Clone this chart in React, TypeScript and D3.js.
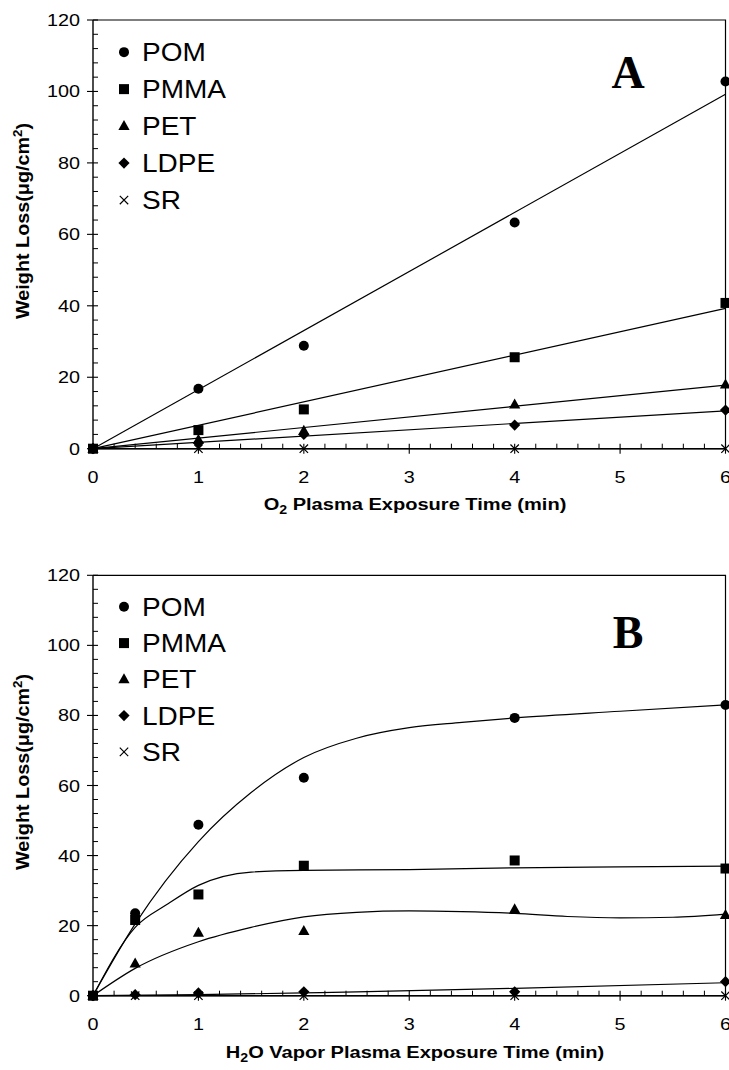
import React from "react";
import * as d3 from "d3";

// ---------- Data ----------
const SERIES = ["POM", "PMMA", "PET", "LDPE", "SR"];
const MARKERS = ["circle", "square", "triangle", "diamond", "times"];

const X_TICKS = [0, 1, 2, 3, 4, 5, 6];
const Y_TICKS = [0, 20, 40, 60, 80, 100, 120];

// Panel A (O2 plasma)
const X_A = [0, 1, 2, 4, 6];
const POM_A = [0, 16.8, 28.8, 63.3, 102.8];
const PMMA_A = [0, 5.2, 11.0, 25.6, 40.8];
const PET_A = [0, 2.5, 5.0, 12.4, 18.0];
const LDPE_A = [0, 1.7, 4.0, 6.6, 10.8];
const SR_A = [0, 0, 0, 0, 0];
// linear fits
const FIT_X_A = [0, 6];
const FIT_POM_A = [0, 99.2];
const FIT_PMMA_A = [0, 39.3];
const FIT_PET_A = [0, 17.8];
const FIT_LDPE_A = [0, 10.6];
const FIT_SR_A = [0, 0];

// Panel B (H2O vapor plasma)
const X_B = [0, 0.4, 1, 2, 4, 6];
const POM_B = [0, 23.5, 48.8, 62.2, 79.3, 83.0];
const PMMA_B = [0, 21.6, 28.9, 37.1, 38.6, 36.3];
const PET_B = [0, 9.2, 18.0, 18.5, 24.7, 23.0];
const LDPE_B = [0, 0.3, 0.8, 1.1, 1.1, 4.0];
const SR_B = [0, 0, 0, 0, 0, 0];
// fitted curves
const FIT_POM_B_X = [0, 0.4, 1, 1.5, 2, 2.5, 3, 3.5, 4, 5, 6];
const FIT_POM_B_Y = [0, 20.5, 44, 58, 68, 73.5, 76.5, 78, 79.3, 81.2, 83];
const FIT_PMMA_B_X = [0, 0.4, 0.7, 1, 1.5, 2, 3, 4, 5, 6];
const FIT_PMMA_B_Y = [0, 19.5, 26, 31.5, 35.3, 35.8, 36, 36.5, 36.8, 37];
const FIT_PET_B_X = [0, 0.4, 1, 1.5, 2, 2.5, 3, 3.5, 4, 4.5, 5, 5.5, 6];
const FIT_PET_B_Y = [0, 7.8, 15.4, 19.5, 22.5, 23.8, 24.2, 24, 23.5, 22.6, 22.2, 22.4, 23.3];
const FIT_LDPE_B_X = [0, 1, 2, 2.5, 4, 6];
const FIT_LDPE_B_Y = [0, 0.3, 0.8, 1.1, 2.1, 3.7];
const FIT_SR_B_X = [0, 6];
const FIT_SR_B_Y = [0, 0];

// ---------- Styling ----------
const SANS = "'Liberation Sans', Arial, Helvetica, sans-serif";
const SERIF = "'Liberation Serif', 'Times New Roman', serif";

type Pt = [number, number];
const zip = (xs: number[], ys: number[]): Pt[] => xs.map((x, i) => [x, ys[i]]);

function Marker({ kind, x, y }: { kind: string; x: number; y: number }) {
  if (kind === "circle") return <circle cx={x} cy={y} r={5} fill="#000" />;
  if (kind === "square") return <rect x={x - 5} y={y - 5} width={10} height={10} fill="#000" />;
  if (kind === "triangle")
    return <path d={`M${x},${y - 6}L${x + 5.6},${y + 4}L${x - 5.6},${y + 4}Z`} fill="#000" />;
  if (kind === "diamond")
    return <path d={`M${x},${y - 5.6}L${x + 5.6},${y}L${x},${y + 5.6}L${x - 5.6},${y}Z`} fill="#000" />;
  const h = 4.2;
  return (
    <path
      d={`M${x - h},${y - h}L${x + h},${y + h}M${x - h},${y + h}L${x + h},${y - h}`}
      stroke="#000"
      strokeWidth={1.2}
      fill="none"
    />
  );
}

function SText({ x, y, sx = 1, anchor = "middle", size, weight = "normal", rotate = 0, children }: any) {
  return (
    <g transform={`translate(${x},${y}) rotate(${rotate}) scale(${sx},1)`}>
      <text textAnchor={anchor} fontFamily={SANS} fontSize={size} fontWeight={weight} fill="#000">
        {children}
      </text>
    </g>
  );
}

interface PanelProps {
  top: number;
  bottom: number;
  pts: Pt[][];
  fits: Pt[][];
  curved: boolean;
  letter: string;
  letterY: number;
  title: React.ReactNode;
  titleY: number;
  ylabelY: number;
}

function Panel(p: PanelProps) {
  const x = d3.scaleLinear().domain([0, 6]).range([93, 725.5]);
  const y = d3.scaleLinear().domain([0, 120]).range([p.bottom, p.top]);
  const line = d3
    .line<Pt>()
    .x((d) => x(d[0]))
    .y((d) => y(d[1]))
    .curve(p.curved ? d3.curveMonotoneX : d3.curveLinear);

  const yMinor = d3.range(0, 121, 4).filter((v) => v % 20 !== 0);
  const xMinor = d3.range(0, 30).map((i) => i * 0.2).filter((v) => Math.abs(v - Math.round(v)) > 1e-6);

  const x0 = x(0), x1 = x(6), y0 = y(0), y1 = y(120);

  return (
    <g>
      {/* frame */}
      <path d={`M${x0},${y1}L${x1},${y1}L${x1},${y0}`} stroke="#000" strokeWidth={1.2} fill="none" />
      <line x1={x0} x2={x1} y1={y0} y2={y0} stroke="#000" strokeWidth={1.4} />
      <line x1={x0} x2={x0} y1={y0} y2={y1} stroke="#000" strokeWidth={1.4} />
      {/* y ticks */}
      {Y_TICKS.map((v) => (
        <g key={"yt" + v}>
          <line x1={x0 - 6} x2={x0 + 5} y1={y(v)} y2={y(v)} stroke="#000" strokeWidth={1.1} />
          <SText x={80} y={y(v) + 6} sx={1.2} anchor="end" size={16.5}>
            {v}
          </SText>
        </g>
      ))}
      {yMinor.map((v) => (
        <line key={"ym" + v} x1={x0} x2={x0 + 5} y1={y(v)} y2={y(v)} stroke="#000" strokeWidth={1} />
      ))}
      {/* x ticks */}
      {X_TICKS.map((v) => (
        <g key={"xt" + v}>
          <line x1={x(v)} x2={x(v)} y1={y0 - 5} y2={y0 + 5} stroke="#000" strokeWidth={1.1} />
          <SText x={x(v)} y={y0 + 34} sx={1.2} size={16.5}>
            {v}
          </SText>
        </g>
      ))}
      {xMinor.map((v) => (
        <line key={"xm" + v} x1={x(v)} x2={x(v)} y1={y0 - 5} y2={y0} stroke="#000" strokeWidth={1} />
      ))}
      {/* fits */}
      {p.fits.map((f, i) => (
        <path key={"f" + i} d={line(f) || ""} stroke="#000" strokeWidth={1.2} fill="none" />
      ))}
      {/* points */}
      {p.pts.map((s, i) =>
        s.map((d, j) => <Marker key={`m${i}-${j}`} kind={MARKERS[i]} x={x(d[0])} y={y(d[1])} />)
      )}
      {/* legend */}
      {SERIES.map((name, i) => {
        const ly = y(111 - i * 10.35);
        return (
          <g key={"lg" + name}>
            <Marker kind={MARKERS[i]} x={124} y={ly} />
            <SText x={142} y={ly + 9} sx={1.12} anchor="start" size={25}>
              {name}
            </SText>
          </g>
        );
      })}
      {/* panel letter */}
      <text x={628} y={p.letterY} textAnchor="middle" fontFamily={SERIF} fontWeight="bold" fontSize={46}>
        {p.letter}
      </text>
      {/* x title */}
      <SText x={415} y={p.titleY} sx={1.18} size={17} weight="bold">
        {p.title}
      </SText>
      {/* y title */}
      <SText x={28.5} y={p.ylabelY} sx={1.1} size={18} weight="bold" rotate={-90}>
        Weight Loss(μg/cm<tspan dy={-7} fontSize={12}>2</tspan>
        <tspan dy={7}>)</tspan>
      </SText>
    </g>
  );
}

export default function App() {
  const ptsA = [POM_A, PMMA_A, PET_A, LDPE_A, SR_A].map((s) => zip(X_A, s));
  const fitsA = [FIT_POM_A, FIT_PMMA_A, FIT_PET_A, FIT_LDPE_A, FIT_SR_A].map((s) => zip(FIT_X_A, s));
  const ptsB = [POM_B, PMMA_B, PET_B, LDPE_B, SR_B].map((s) => zip(X_B, s));
  const fitsB = [
    zip(FIT_POM_B_X, FIT_POM_B_Y),
    zip(FIT_PMMA_B_X, FIT_PMMA_B_Y),
    zip(FIT_PET_B_X, FIT_PET_B_Y),
    zip(FIT_LDPE_B_X, FIT_LDPE_B_Y),
    zip(FIT_SR_B_X, FIT_SR_B_Y),
  ];
  return (
    <svg
      width={729}
      height={1070}
      style={{ position: "absolute", left: 0, top: 0, background: "#fff" }}
    >
      <rect width={729} height={1070} fill="#fff" />
      <Panel
        top={20}
        bottom={448.7}
        pts={ptsA}
        fits={fitsA}
        curved={false}
        letter="A"
        letterY={88}
        titleY={510}
        ylabelY={221}
        title={
          <>
            O<tspan dy={4} fontSize={12}>2</tspan>
            <tspan dy={-4}> Plasma Exposure Time (min)</tspan>
          </>
        }
      />
      <Panel
        top={575.3}
        bottom={995.7}
        pts={ptsB}
        fits={fitsB}
        curved={true}
        letter="B"
        letterY={648}
        titleY={1058}
        ylabelY={772}
        title={
          <>
            H<tspan dy={4} fontSize={12}>2</tspan>
            <tspan dy={-4}>O Vapor Plasma Exposure Time (min)</tspan>
          </>
        }
      />
    </svg>
  );
}
